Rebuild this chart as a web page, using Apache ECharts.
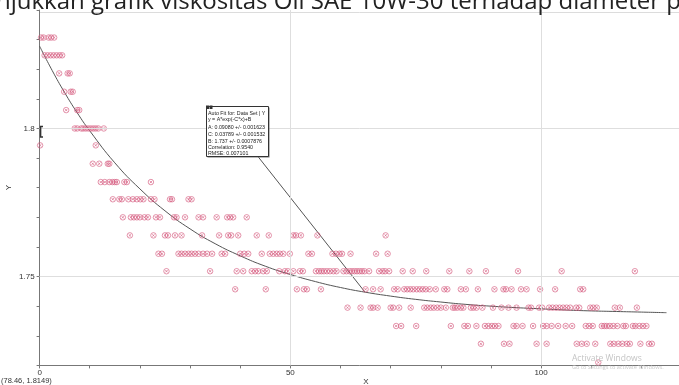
<!DOCTYPE html>
<html><head><meta charset="utf-8">
<script src="https://cdn.jsdelivr.net/npm/echarts@6/dist/echarts.min.js"></script>
<style>html,body{margin:0;padding:0;background:#fff;}#c{width:679px;height:385px;}</style>
</head><body><div id="c"></div>
<script>
// ---- data ----
const yLevels = [1.8307, 1.8247, 1.8186, 1.8124, 1.8062, 1.8000, 1.7943, 1.7881, 1.7819, 1.7761,
                 1.7700, 1.7639, 1.7577, 1.7518, 1.7457, 1.7395, 1.7333, 1.7273, 1.7210];
const row01X = [0.3, 0.8, 1.8, 2.3, 2.9];
const row02X = [1.0, 1.6, 2.2, 2.8, 3.4, 4.0, 4.5];
const row03X = [3.9, 5.6, 6.0];
const row04X = [4.9, 6.2, 6.6];
const row05X = [5.3, 7.5, 7.9];
const row06X = [7.0, 7.5, 8.3, 8.7, 9.2, 9.7, 10.2, 10.7, 11.2, 11.7, 12.8];
const row07X = [0.1, 11.2];
const row08X = [10.6, 11.9, 13.6, 13.9];
const row09X = [12.2, 13.0, 13.9, 14.5, 15.0, 15.4, 16.9, 17.4, 22.2];
const row10X = [14.6, 15.9, 16.4, 17.7, 18.6, 19.4, 20.1, 20.7, 22.2, 22.9, 26.0, 26.4, 29.7, 30.3];
const row11X = [16.6, 18.2, 18.8, 19.4, 20.0, 20.9, 21.6, 23.2, 24.0, 26.8, 27.3, 29.0, 31.7, 32.6, 35.3, 37.4, 38.0, 38.6, 41.3];
const row12X = [18.0, 22.7, 25.0, 25.6, 27.0, 28.3, 32.4, 35.8, 37.6, 38.2, 39.6, 43.3, 45.7, 50.6, 51.1, 52.1, 55.4, 69.0];
const row13X = [23.7, 24.4, 27.7, 28.3, 29.0, 29.7, 30.3, 31.0, 31.7, 32.6, 33.4, 34.4, 36.3, 37.0, 40.0, 40.8, 41.6,
                44.3, 45.9, 46.6, 47.3, 47.9, 48.6, 49.9, 53.6, 54.3, 58.4, 59.1, 59.8, 60.3, 62.0, 67.1, 69.4];
const row14X = [25.3, 34.0, 39.3, 40.6, 42.3, 43.0, 43.6, 44.6, 45.3, 47.8, 48.9, 49.5, 50.6, 51.9, 52.5, 55.1, 55.7,
                56.2, 56.7, 57.3, 57.9, 58.6, 59.2, 60.6, 61.2, 61.8, 62.3, 62.8, 63.3, 63.8, 64.3, 64.8, 65.7, 67.7,
                68.4, 68.9, 69.7, 72.4, 74.4, 77.1, 81.7, 85.7, 89.0, 95.4, 104.1, 118.7];
const row15X = [39.0, 45.1, 51.3, 52.7, 53.3, 56.1, 65.0, 66.5, 68.0, 70.7, 71.4, 72.7, 73.3, 73.9, 74.5, 75.2, 75.8,
                76.4, 77.0, 77.8, 79.0, 80.7, 81.3, 84.0, 85.0, 87.4, 90.7, 92.5, 93.0, 94.1, 96.0, 97.1, 99.8, 102.8,
                107.8, 108.4];
const row16X = [61.4, 64.0, 66.0, 66.5, 67.4, 70.0, 70.5, 71.7, 74.0, 76.7, 77.3, 78.0, 78.6, 79.3, 80.0, 81.0, 82.4,
                82.8, 83.3, 84.0, 84.5, 86.0, 86.5, 87.1, 88.3, 90.4, 92.1, 93.5, 95.1, 97.5, 98.0, 99.6, 100.2, 101.6,
                102.3, 103.0, 103.7, 104.4, 105.1, 105.8, 107.0, 107.6, 109.8, 110.4, 111.1, 114.7, 115.7, 119.1];
const row17X = [71.1, 72.1, 75.1, 82.0, 84.7, 85.4, 87.1, 88.8, 89.5, 90.2, 90.8, 91.5, 94.5, 95.1, 96.3, 98.4, 100.4,
                101.1, 102.1, 103.4, 104.9, 106.2, 108.9, 109.6, 110.3, 112.1, 112.6, 113.1, 113.7, 114.4, 115.2,
                116.4, 116.9, 118.3, 118.8, 119.6, 120.3, 121.0];
const row18X = [88.0, 92.6, 93.7, 99.1, 101.1, 107.1, 108.1, 109.1, 110.8, 113.8, 114.5, 115.4, 116.2, 117.1, 117.7,
                119.8, 121.5, 122.1];
const row19X = [111.4];

// auto-fit curve
const curveX = [0, 2.5, 5, 7.5, 10, 15, 20, 25, 30, 35, 40, 45, 50, 55, 60, 65, 70, 75, 80, 85, 90, 95, 100, 105, 110, 115, 120, 125];
const curveY = [1.8278, 1.8196, 1.8121, 1.8053, 1.7992, 1.7884, 1.7796, 1.7722, 1.7661, 1.7611, 1.7570, 1.7535, 1.7507,
                1.7483, 1.7463, 1.7447, 1.7434, 1.7423, 1.7414, 1.7406, 1.7400, 1.7395, 1.7391, 1.7387, 1.7384, 1.7382,
                1.7380, 1.7378];
const leaderX = [43.6, 64.9];
const leaderY = [1.7904, 1.7447];

const xTickLabels = [0, 50, 100];
const yTickLabels = [1.75, 1.8];
const fitLines = ['Auto Fit for: Data Set | Y', 'y = A*exp(-C*x)+B', 'A: 0.09080 +/- 0.001623',
                  'C: 0.03789 +/- 0.001532', 'B: 1.737 +/- 0.0007876', 'Correlation: 0.9540', 'RMSE: 0.007101'];
const titleText = 'njukkan grafik viskositas Oli SAE 10W-30 terhadap diameter p';
const cursorText = '(78.46, 1.8149)';

// ---- build ----
const rows = [row01X,row02X,row03X,row04X,row05X,row06X,row07X,row08X,row09X,row10X,
              row11X,row12X,row13X,row14X,row15X,row16X,row17X,row18X,row19X];
const points = [];
rows.forEach((xs, i) => xs.forEach(x => points.push([x, yLevels[i]])));
const curve = curveX.map((x, i) => [x, curveY[i]]);
const leader = leaderX.map((x, i) => [x, leaderY[i]]);

const fitLineTop = [114, 119.5, 127.5, 134.5, 142, 148, 153.5];
const FONT = '"Liberation Sans", Arial, sans-serif';

const graphics = [
  {type:'line', shape:{x1:39.6, y1:12.5, x2:679, y2:12.5}, style:{stroke:'#dcdcdc', lineWidth:1}, z:0},
  {type:'text', x:-4, y:14, style:{text:titleText, font:'24px "Open Sans"', fill:'#222', verticalAlign:'bottom'}, z:10},
  {type:'polyline', shape:{points:[[43,126.5],[40.6,126.5],[40.6,137],[43,137]]}, style:{stroke:'#333', lineWidth:1.5, fill:null}, z:10},
  {type:'rect', shape:{x:207.5, y:107.5, width:62, height:50}, style:{fill:'#777'}, z:20},
  {type:'rect', shape:{x:206.5, y:106.5, width:62, height:50}, style:{fill:'#fff', stroke:'#333', lineWidth:1}, z:21},
  {type:'rect', shape:{x:206, y:105.5, width:3, height:3.5}, style:{fill:'#333'}, z:22},
  {type:'rect', shape:{x:209.5, y:105.5, width:3, height:3.5}, style:{fill:'#333'}, z:22},
  {type:'text', x:1, y:380.5, style:{text:cursorText, font:'7.5px ' + FONT, fill:'#333', verticalAlign:'middle'}, z:10},
  {type:'text', x:572, y:358.5, style:{text:'Activate Windows', font:'8.5px "Open Sans"', fill:'#c4c4c4', verticalAlign:'middle'}, z:30},
  {type:'text', x:572, y:367.5, style:{text:'Go to Settings to activate Windows.', font:'5.6px "Open Sans"', fill:'#cacaca', verticalAlign:'middle'}, z:30}
];
fitLines.forEach((t, i) => graphics.push({type:'text', x:208, y:fitLineTop[i],
  style:{text:t, font:'5.3px ' + FONT, fill:'#222', verticalAlign:'middle'}, z:23}));

const chart = echarts.init(document.getElementById('c'), null, {renderer:'canvas'});
chart.setOption({
  animation:false,
  backgroundColor:'#fff',
  grid:{left:39.6, right:0, top:10, bottom:19.6, containLabel:false, outerBoundsMode:'none'},
  xAxis:{type:'value', min:0, max:127.5, interval:10,
    axisLine:{lineStyle:{color:'#777', width:1}},
    axisTick:{length:3, lineStyle:{color:'#777'}},
    axisLabel:{fontSize:8, color:'#333', margin:3, fontFamily:FONT, showMaxLabel:false,
      formatter:v => xTickLabels.some(t => Math.abs(t - v) < 1e-6) ? String(v) : ''},
    splitLine:{show:false},
    name:'X', nameLocation:'middle', nameGap:12, nameMoveOverlap:false,
    nameTextStyle:{fontSize:8, color:'#333', fontFamily:FONT, padding:[0,0,0,13]}},
  yAxis:{type:'value', min:1.72, max:1.84, interval:0.01,
    axisLine:{lineStyle:{color:'#777', width:1}},
    axisTick:{length:3, lineStyle:{color:'#777'}},
    axisLabel:{fontSize:8, color:'#333', margin:5, fontFamily:FONT,
      formatter:v => { const t = yTickLabels.find(t => Math.abs(t - v) < 1e-6); return t === undefined ? '' : String(t); }},
    splitLine:{show:false},
    name:'Y', nameLocation:'middle', nameGap:27, nameRotate:90, nameMoveOverlap:false,
    nameTextStyle:{fontSize:8, color:'#333', fontFamily:FONT}},
  graphic:graphics,
  series:[
    {type:'scatter', data:[], silent:true, z:1,
      markLine:{silent:true, symbol:'none', label:{show:false}, animation:false,
        lineStyle:{color:'#dedede', width:1, type:'solid'},
        data:[...xTickLabels.filter(v => v !== 0).map(v => ({xAxis:v})), ...yTickLabels.map(v => ({yAxis:v}))]}},
    {type:'line', data:curve, smooth:true, showSymbol:false, silent:true, z:3,
      lineStyle:{color:'#555', width:1}},
    {type:'line', data:leader, showSymbol:false, silent:true, z:3,
      lineStyle:{color:'#555', width:1}},
    {type:'scatter', data:points, silent:true, z:4,
      symbol:'path://M5,0 A5,5 0 1,1 -5,0 A5,5 0 1,1 5,0 Z M-2.2,-2.2 L2.2,2.2 M-2.2,2.2 L2.2,-2.2',
      symbolSize:5.5,
      itemStyle:{color:'rgba(0,0,0,0)', borderColor:'#d4587c', borderWidth:0.8}}
  ]
});
</script></body></html>
